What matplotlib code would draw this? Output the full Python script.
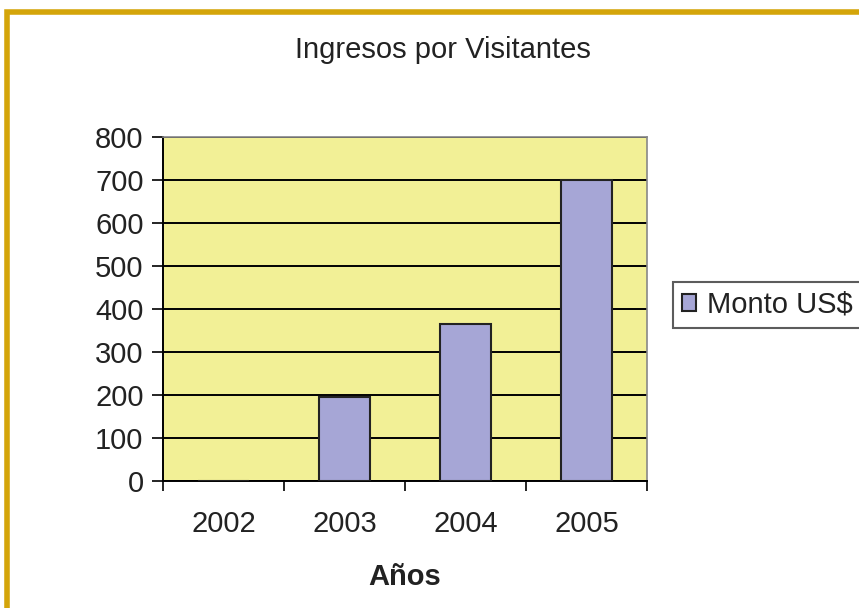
import matplotlib.pyplot as plt
from matplotlib.patches import Rectangle

plt.rcParams['font.family'] = ['Liberation Sans', 'DejaVu Sans']

# Data
years = ['2002', '2003', '2004', '2005']
monto = [0, 195, 365, 700]
yticks = list(range(0, 801, 100))

fig = plt.figure(figsize=(8.59, 6.08), dpi=100)
ax = fig.add_axes([163/859, 1-481/608, 484/859, 344/608])

ax.set_facecolor('#F2F096')
x = range(len(years))
ax.bar(x, monto, width=0.42, color='#A6A6D6', edgecolor='#222222',
       linewidth=1.5, zorder=3, label='Monto US$')

ax.set_xlim(-0.5, len(years) - 0.5)
ax.set_ylim(0, 800)
ax.set_yticks(yticks)
ax.set_yticklabels([str(v) for v in yticks], fontsize=21, color='#222222')
ax.yaxis.grid(True, color='black', linewidth=1.4, zorder=1)
ax.set_axisbelow(True)

# category labels centered, ticks at category boundaries
ax.set_xticks([i - 0.5 for i in range(len(years) + 1)])
ax.set_xticklabels([])
ax.set_xticks(list(x), minor=True)
ax.set_xticklabels(years, minor=True, fontsize=21, color='#222222')
ax.tick_params(axis='x', which='minor', length=0, pad=21)
ax.tick_params(axis='x', which='major', length=7, width=1.2, direction='out')
ax.tick_params(axis='y', length=8, width=1.2, direction='out', pad=6)
ax.set_xlabel('Años', fontsize=21, fontweight='bold', labelpad=18,
              color='#222222')

for side in ['top', 'right']:
    ax.spines[side].set_color('#888888')
    ax.spines[side].set_linewidth(1.2)
for side in ['left', 'bottom']:
    ax.spines[side].set_color('black')
    ax.spines[side].set_linewidth(1.4)

fig.text(443/859, 1-58/608, 'Ingresos por Visitantes', ha='center',
         va='baseline', fontsize=21, color='#222222')

leg = fig.legend(loc='upper left', bbox_to_anchor=(673/859, 1-282/608),
                 fontsize=21, frameon=True, fancybox=False,
                 handlelength=0.5, handleheight=0.5, handletextpad=0.35,
                 borderpad=0.3, borderaxespad=0)
leg.get_frame().set_edgecolor('#333333')
leg.get_frame().set_linewidth(1.5)
for t in leg.get_texts():
    t.set_color('#222222')

# gold frame, running off the right and bottom edges
fig.patches.append(Rectangle((7/859, -0.05), 1.1, 1-12/608 + 0.05,
                             transform=fig.transFigure, fill=False,
                             edgecolor='#D4A50A', linewidth=4))

fig.savefig('out.png', dpi=100)
